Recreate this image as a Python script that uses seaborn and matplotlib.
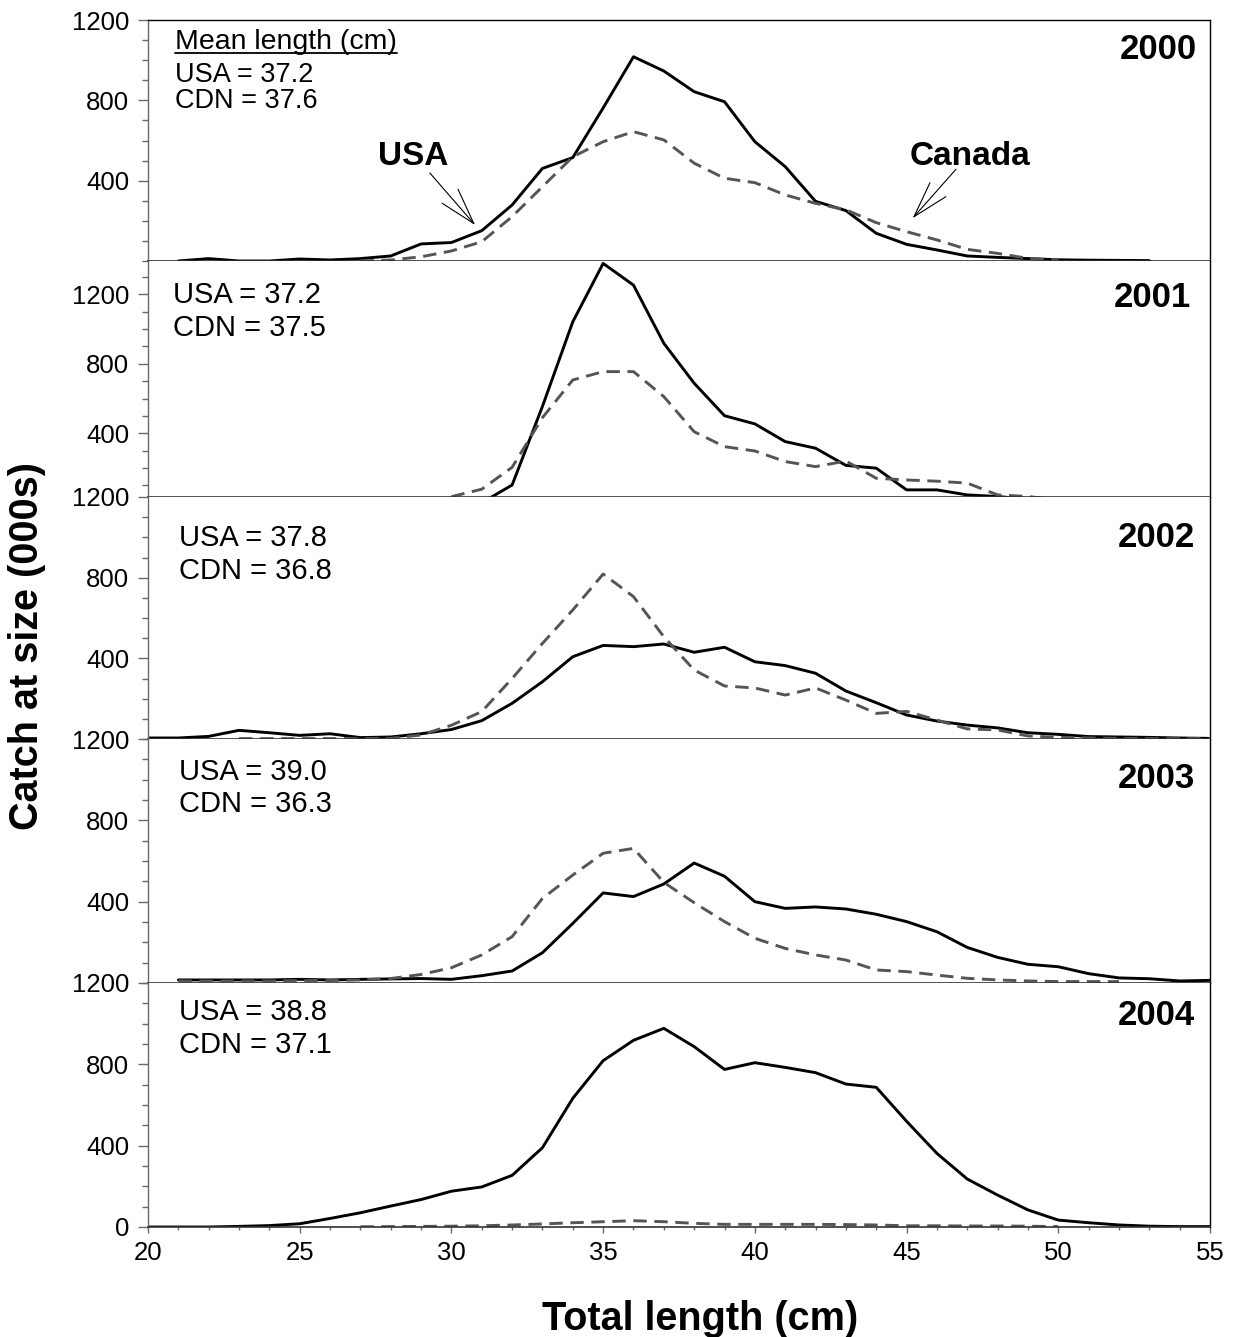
import numpy as np
import pandas as pd
import matplotlib
matplotlib.use("Agg")
import matplotlib.pyplot as plt
from matplotlib.ticker import MultipleLocator, FixedLocator
from matplotlib.lines import Line2D
from matplotlib.transforms import IdentityTransform
import seaborn as sns

# ---------------- data (catch at size, 000s) ----------------
years = ["2000", "2001", "2002", "2003", "2004"]
mean_usa = ["37.2", "37.2", "37.8", "39.0", "38.8"]
mean_cdn = ["37.6", "37.5", "36.8", "36.3", "37.1"]

len_usa_2000 = np.arange(21, 54)
usa_2000 = [0, 12, 0, 0, 10, 5, 12, 25, 85, 92, 151, 279, 461, 515, 762, 1017, 946,
            843, 793, 594, 470, 297, 251, 138, 83, 55, 25, 18, 12, 6, 4, 3, 2]
len_cdn_2000 = np.arange(27, 51)
cdn_2000 = [0, 5, 21, 50, 96, 221, 370, 519, 594, 644, 603, 487, 412, 390, 329, 287,
            255, 191, 146, 105, 58, 38, 13, 5]

len_usa_2001 = np.arange(31, 51)
usa_2001 = [0, 102, 555, 1042, 1378, 1253, 918, 688, 501, 454, 352, 314, 215, 199,
            74, 74, 45, 36, 20, 10]
len_cdn_2001 = np.arange(30, 51)
cdn_2001 = [35, 78, 204, 490, 707, 755, 755, 611, 409, 323, 298, 237, 208, 240, 141,
            131, 124, 113, 45, 36, 15]

len_usa_2002 = np.arange(20, 56)
usa_2002 = [5, 5, 13, 43, 31, 18, 26, 7, 10, 26, 47, 91, 177, 284, 408, 464, 458, 471,
            430, 455, 383, 364, 326, 238, 180, 119, 89, 69, 55, 31, 23, 12, 10, 8, 5, 3]
len_cdn_2002 = np.arange(23, 56)
cdn_2002 = [2, 2, 2, 2, 2, 3, 20, 68, 136, 300, 474, 640, 818, 706, 507, 342, 263, 253,
            218, 253, 193, 127, 137, 94, 50, 45, 15, 8, 5, 3, 2, 2, 2]

len_usa_2003 = np.arange(21, 56)
usa_2003 = [15, 15, 15, 15, 18, 15, 18, 20, 22, 18, 36, 59, 149, 293, 443, 425, 487,
            590, 525, 400, 367, 374, 364, 338, 302, 252, 175, 126, 92, 80, 46, 25, 21, 10, 13]
len_cdn_2003 = np.arange(21, 53)
cdn_2003 = [10, 10, 10, 10, 12, 12, 15, 22, 42, 75, 138, 228, 416, 531, 638, 662, 495,
            395, 302, 220, 170, 138, 113, 64, 56, 39, 23, 15, 10, 7, 7, 7]

len_usa_2004 = np.arange(20, 56)
usa_2004 = [0, 0, 0, 3, 7, 16, 42, 70, 103, 135, 176, 197, 254, 390, 633, 818, 918, 977,
            887, 775, 808, 785, 759, 703, 687, 520, 362, 236, 157, 84, 34, 21, 10, 4, 2, 2]
len_cdn_2004 = np.arange(27, 51)
cdn_2004 = [1, 2, 3, 4, 6, 10, 15, 21, 26, 31, 26, 18, 13, 13, 13, 13, 12, 10, 6, 6, 5,
            5, 4, 2]

usa_series = [(len_usa_2000, usa_2000), (len_usa_2001, usa_2001), (len_usa_2002, usa_2002),
              (len_usa_2003, usa_2003), (len_usa_2004, usa_2004)]
cdn_series = [(len_cdn_2000, cdn_2000), (len_cdn_2001, cdn_2001), (len_cdn_2002, cdn_2002),
              (len_cdn_2003, cdn_2003), (len_cdn_2004, cdn_2004)]

ylims = [(0, 1200), (33, 1392), (0, 1200), (0, 1200), (0, 1200)]
ytick_labels = [[400, 800, 1200], [400, 800, 1200], [400, 800, 1200],
                [400, 800, 1200], [0, 400, 800, 1200]]
xticks = [20, 25, 30, 35, 40, 45, 50, 55]

# ---------------- style ----------------
sns.set_style("ticks")
plt.rcParams["font.family"] = ["Liberation Sans", "DejaVu Sans"]
plt.rcParams["axes.linewidth"] = 1.0
for k in ["text.color", "axes.labelcolor", "xtick.labelcolor", "ytick.labelcolor"]:
    plt.rcParams[k] = "black"

W, H = 1235, 1337
fig = plt.figure(figsize=(W / 100, H / 100), dpi=100)

edges = [20, 261, 497, 739, 983, 1227]
left_px, right_px = 148, 1210


def fx(px):
    return px / W


def fy(py):
    return 1 - py / H


axes = []
for i in range(5):
    top, bot = edges[i], edges[i + 1]
    ax = fig.add_axes([fx(left_px), fy(bot), fx(right_px - left_px), (bot - top) / H])
    axes.append(ax)

spine_grey = "#6a6a6a"
for i, ax in enumerate(axes):
    x_u, y_u = usa_series[i]
    x_c, y_c = cdn_series[i]
    sns.lineplot(x=x_u, y=y_u, ax=ax, color="black", linewidth=2.1, errorbar=None)
    sns.lineplot(x=x_c, y=y_c, ax=ax, color="#555555", linewidth=2.1, errorbar=None,
                 linestyle=(0, (4.6, 2.6)))
    ax.set_xlim(20, 55)
    ax.set_ylim(*ylims[i])
    ax.set_xlabel("")
    ax.set_ylabel("")
    ax.yaxis.set_major_locator(FixedLocator(ytick_labels[i]))
    ax.yaxis.set_minor_locator(MultipleLocator(100))
    ax.tick_params(axis="y", which="major", direction="out", length=7.5, width=1.0,
                   color=spine_grey, labelsize=18.5, pad=6, labelcolor="black")
    ax.tick_params(axis="y", which="minor", direction="out", length=4.2, width=1.0,
                   color=spine_grey)
    ax.spines["left"].set_color(spine_grey)
    ax.spines["right"].set_color("black")
    ax.spines["top"].set_color("black")
    ax.spines["bottom"].set_color("#333333")
    ax.spines["bottom"].set_linewidth(1.2)
    if i > 0:
        ax.spines["top"].set_visible(False)
    if i < 4:
        ax.set_xticks([])
        ax.tick_params(axis="x", which="both", bottom=False, labelbottom=False)
    else:
        ax.set_xticks(xticks)
        ax.xaxis.set_minor_locator(MultipleLocator(1))
        ax.tick_params(axis="x", which="major", direction="out", length=4, width=1.0,
                       color=spine_grey, labelsize=18.5, pad=6, labelcolor="black")
        ax.tick_params(axis="x", which="minor", direction="out", length=2.5, width=1.0,
                       color=spine_grey)
    ax.set_facecolor("white")

# ---------------- texts ----------------
txt_sizes = [19.5, 21, 21, 21, 21]
usa_base = [82, 303, 546, 780, 1020]
cdn_base = [108, 336, 579, 812, 1053]
txt_left = [175, 173, 179, 179, 179]
year_base = [59, 307, 547, 788, 1025]
year_right = [1197, 1191, 1195, 1195, 1195]

for i in range(5):
    fig.text(fx(txt_left[i]), fy(usa_base[i]), f"USA = {mean_usa[i]}",
             fontsize=txt_sizes[i], va="baseline", ha="left", color="black")
    fig.text(fx(txt_left[i]), fy(cdn_base[i]), f"CDN = {mean_cdn[i]}",
             fontsize=txt_sizes[i], va="baseline", ha="left", color="black")
    fig.text(fx(year_right[i]), fy(year_base[i]), years[i], fontsize=25,
             fontweight="bold", va="baseline", ha="right", color="black")

mean_txt = fig.text(fx(175), fy(49), "Mean length (cm)", fontsize=20.5,
                    va="baseline", ha="left", color="black")

# Series labels with arrows (top panel)
ax0 = axes[0]
ax0.text(28.75, 478, "USA", fontsize=24, fontweight="bold", ha="center",
         va="baseline", color="black")
ax0.text(47.09, 478, "Canada", fontsize=24, fontweight="bold", ha="center",
         va="baseline", color="black")
arrow_kw = dict(arrowstyle="->,head_length=1.3,head_width=0.38", color="black",
                lw=0.8, mutation_scale=20, shrinkA=0, shrinkB=0)
ax0.annotate("", xy=(30.78, 179), xytext=(29.29, 438), arrowprops=arrow_kw)
ax0.annotate("", xy=(45.20, 213), xytext=(46.63, 457), arrowprops=arrow_kw)

# Axis titles
fig.text(fx(700), fy(1330), "Total length (cm)", fontsize=28.5, fontweight="bold",
         ha="center", va="baseline", color="black")
fig.text(fx(27), fy(646), "Catch at size (000s)", fontsize=28.5, fontweight="bold",
         ha="center", va="center", rotation=90, color="black")

# underline "Mean length (cm)"
fig.canvas.draw()
bb = mean_txt.get_window_extent(renderer=fig.canvas.get_renderer())
uy = H - 52.5
fig.add_artist(Line2D([bb.x0, bb.x1], [uy, uy], transform=IdentityTransform(),
                      color="black", linewidth=1.3))

fig.savefig("out.png", dpi=100, facecolor="white")
